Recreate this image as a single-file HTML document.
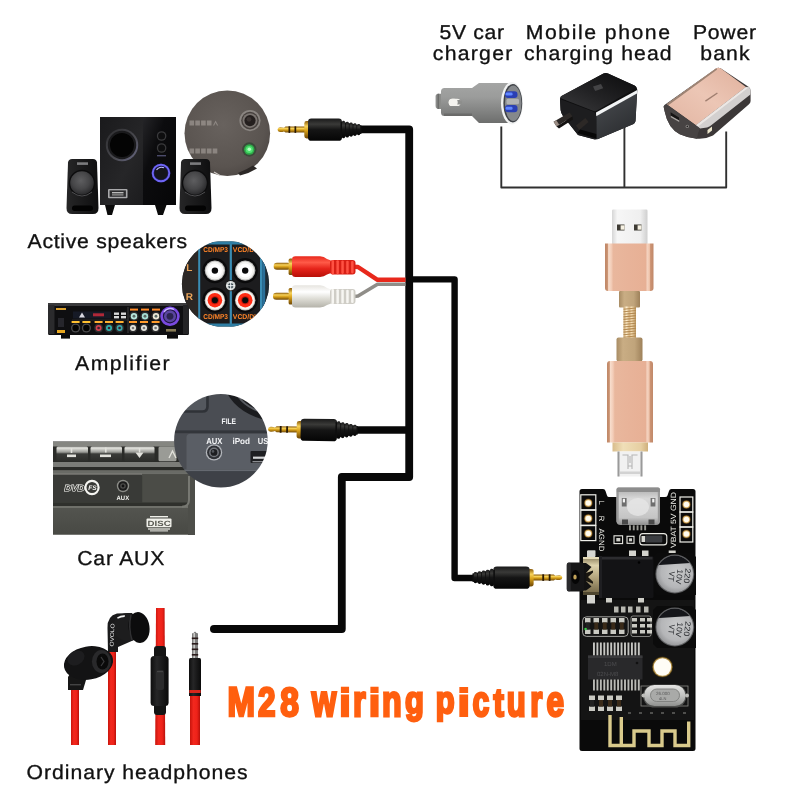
<!DOCTYPE html>
<html>
<head>
<meta charset="utf-8">
<title>M28 wiring picture</title>
<style>
html,body{margin:0;padding:0;background:#fff;}
body{width:800px;height:800px;overflow:hidden;font-family:"Liberation Sans",sans-serif;}
svg{display:block;will-change:transform;}
text{font-family:"Liberation Sans",sans-serif;text-rendering:geometricPrecision;}
.lbl{font-size:20px;fill:#111;stroke:#111;stroke-width:0.32px;}
</style>
</head>
<body>
<svg width="800" height="800" viewBox="0 0 800 800">
<defs>
  <linearGradient id="gold" x1="0" y1="0" x2="0" y2="1">
    <stop offset="0" stop-color="#8a5a08"/>
    <stop offset="0.3" stop-color="#f7d35c"/>
    <stop offset="0.55" stop-color="#d9a21b"/>
    <stop offset="1" stop-color="#6e4604"/>
  </linearGradient>
  <linearGradient id="blk" x1="0" y1="0" x2="0" y2="1">
    <stop offset="0" stop-color="#1a1a1a"/>
    <stop offset="0.25" stop-color="#3a3a38"/>
    <stop offset="0.5" stop-color="#151515"/>
    <stop offset="1" stop-color="#050505"/>
  </linearGradient>
  <linearGradient id="rose" x1="0" y1="0" x2="1" y2="0">
    <stop offset="0" stop-color="#bf8768"/>
    <stop offset="0.05" stop-color="#c9916f"/>
    <stop offset="0.075" stop-color="#f7dccb"/>
    <stop offset="0.13" stop-color="#f3cdb8"/>
    <stop offset="0.17" stop-color="#e9b79d"/>
    <stop offset="0.5" stop-color="#e8b399"/>
    <stop offset="0.84" stop-color="#e7b095"/>
    <stop offset="0.87" stop-color="#f4d2bf"/>
    <stop offset="0.915" stop-color="#f0c6ae"/>
    <stop offset="0.94" stop-color="#cc9373"/>
    <stop offset="1" stop-color="#c08869"/>
  </linearGradient>
  <linearGradient id="redb" x1="0" y1="0" x2="0" y2="1">
    <stop offset="0" stop-color="#e8281c"/>
    <stop offset="0.3" stop-color="#ff5a48"/>
    <stop offset="0.6" stop-color="#e6241a"/>
    <stop offset="1" stop-color="#b81008"/>
  </linearGradient>
  <linearGradient id="whb" x1="0" y1="0" x2="0" y2="1">
    <stop offset="0" stop-color="#e6e4df"/>
    <stop offset="0.3" stop-color="#ffffff"/>
    <stop offset="0.6" stop-color="#deddd6"/>
    <stop offset="1" stop-color="#b5b3aa"/>
  </linearGradient>
  <linearGradient id="cc1" x1="0" y1="0" x2="0" y2="1">
    <stop offset="0" stop-color="#a4a5a4"/><stop offset="0.35" stop-color="#9b9c9b"/><stop offset="1" stop-color="#6d6e6d"/>
  </linearGradient>
  <linearGradient id="wtop" x1="0" y1="1" x2="1" y2="0">
    <stop offset="0" stop-color="#3a3a3c"/><stop offset="0.45" stop-color="#222224"/><stop offset="1" stop-color="#0b0b0c"/>
  </linearGradient>
  <linearGradient id="pbk" x1="0" y1="1" x2="1" y2="0">
    <stop offset="0" stop-color="#e2b5a2"/><stop offset="0.5" stop-color="#ecc6b5"/><stop offset="1" stop-color="#e0b09c"/>
  </linearGradient>
  <linearGradient id="usbm" x1="0" y1="0" x2="1" y2="0">
    <stop offset="0" stop-color="#d6d6d6"/><stop offset="0.15" stop-color="#f6f6f6"/><stop offset="0.8" stop-color="#efefef"/><stop offset="1" stop-color="#cfcfcf"/>
  </linearGradient>
  <linearGradient id="tan" x1="0" y1="0" x2="1" y2="0">
    <stop offset="0" stop-color="#a88c64"/><stop offset="0.25" stop-color="#c9ad84"/><stop offset="0.7" stop-color="#c0a47b"/><stop offset="1" stop-color="#9e815a"/>
  </linearGradient>
  <linearGradient id="gband" x1="0" y1="0" x2="1" y2="0">
    <stop offset="0" stop-color="#d9bd8c"/><stop offset="0.3" stop-color="#f0dfb8"/><stop offset="0.8" stop-color="#e6cfa2"/><stop offset="1" stop-color="#cfb07c"/>
  </linearGradient>
  <linearGradient id="musb" x1="0" y1="0" x2="0" y2="1">
    <stop offset="0" stop-color="#a9a9a9"/><stop offset="0.3" stop-color="#d9d9d9"/><stop offset="0.8" stop-color="#c5c5c5"/><stop offset="1" stop-color="#8e8e8e"/>
  </linearGradient>
  <radialGradient id="capg" cx="0.55" cy="0.45" r="0.6">
    <stop offset="0" stop-color="#c9cacb"/><stop offset="0.7" stop-color="#b5b6b8"/><stop offset="1" stop-color="#8f9092"/>
  </radialGradient>
  <linearGradient id="jgold" x1="0" y1="0" x2="0" y2="1">
    <stop offset="0" stop-color="#8c7f5c"/><stop offset="0.22" stop-color="#ddd2ac"/><stop offset="0.55" stop-color="#b3a47c"/><stop offset="1" stop-color="#6f6344"/>
  </linearGradient>
  <linearGradient id="xtal" x1="0" y1="0" x2="0" y2="1">
    <stop offset="0" stop-color="#e4e4e2"/><stop offset="0.5" stop-color="#c2c3c1"/><stop offset="1" stop-color="#8f908e"/>
  </linearGradient>
  <radialGradient id="insg" cx="0.45" cy="0.4" r="0.65">
    <stop offset="0" stop-color="#68625e"/><stop offset="0.75" stop-color="#5a5450"/><stop offset="1" stop-color="#4c4643"/>
  </radialGradient>
  <linearGradient id="btn" x1="0" y1="0" x2="0" y2="1">
    <stop offset="0" stop-color="#b9bab5"/><stop offset="0.12" stop-color="#deded9"/><stop offset="0.38" stop-color="#9b9c97"/><stop offset="0.5" stop-color="#3a3b38"/><stop offset="1" stop-color="#2c2d2a"/>
  </linearGradient>
  <linearGradient id="redc" x1="0" y1="0" x2="1" y2="0">
    <stop offset="0" stop-color="#c8140c"/><stop offset="0.35" stop-color="#f2281e"/><stop offset="0.7" stop-color="#ee2219"/><stop offset="1" stop-color="#b8100a"/>
  </linearGradient>
  <linearGradient id="spr" x1="0" y1="0" x2="1" y2="0">
    <stop offset="0" stop-color="#c9a46c"/><stop offset="0.25" stop-color="#fff0d2"/><stop offset="0.45" stop-color="#d8b480"/><stop offset="0.65" stop-color="#f6e0b8"/><stop offset="1" stop-color="#b8925a"/>
  </linearGradient>
  <linearGradient id="subf" x1="0" y1="0" x2="1" y2="1">
    <stop offset="0" stop-color="#1a1a1c"/><stop offset="0.6" stop-color="#262628"/><stop offset="1" stop-color="#1c1c1e"/>
  </linearGradient>
  <linearGradient id="subr" x1="0" y1="0" x2="1" y2="1">
    <stop offset="0" stop-color="#252528"/><stop offset="0.35" stop-color="#0c0c0e"/><stop offset="1" stop-color="#060607"/>
  </linearGradient>
  <linearGradient id="wring" x1="0" y1="0" x2="1" y2="1">
    <stop offset="0" stop-color="#2c2c2e"/><stop offset="0.6" stop-color="#4a4a50"/><stop offset="1" stop-color="#6a6a88"/>
  </linearGradient>
  <linearGradient id="satg" x1="0" y1="0" x2="1" y2="0">
    <stop offset="0" stop-color="#262627"/><stop offset="0.5" stop-color="#1a1a1b"/><stop offset="1" stop-color="#0e0e0f"/>
  </linearGradient>
  <radialGradient id="cone" cx="0.45" cy="0.4" r="0.6">
    <stop offset="0" stop-color="#5e5e60"/><stop offset="0.6" stop-color="#464648"/><stop offset="1" stop-color="#2a2a2c"/>
  </radialGradient>
  <linearGradient id="micg" x1="0" y1="0" x2="1" y2="0">
    <stop offset="0" stop-color="#0e0e0e"/><stop offset="0.35" stop-color="#262627"/><stop offset="1" stop-color="#0a0a0a"/>
  </linearGradient>
  <linearGradient id="carlow" x1="0" y1="0" x2="0" y2="1">
    <stop offset="0" stop-color="#53544f"/><stop offset="1" stop-color="#484944"/>
  </linearGradient>
  <linearGradient id="wside" x1="0" y1="0" x2="0.6" y2="1">
    <stop offset="0" stop-color="#4a4d51"/><stop offset="1" stop-color="#2c2e31"/>
  </linearGradient>
  <!-- 3.5mm jack pointing left; origin = tip, y=0 centre -->
  <g id="jack">
    <path d="M0,0 Q0,-2.2 2.5,-2.4 Q5,-2.5 6.5,-1.8 L8,-3 L28,-3 L28,3 L8,3 L6.5,1.8 Q5,2.5 2.5,2.4 Q0,2.2 0,0Z" fill="url(#gold)"/>
    <rect x="11" y="-3.3" width="1.7" height="6.6" fill="#2a1a05"/>
    <rect x="17" y="-3.3" width="1.7" height="6.6" fill="#2a1a05"/>
    <rect x="26.8" y="-8.6" width="6" height="17.4" rx="2.4" fill="url(#gold)"/>
    <rect x="30.5" y="-11" width="34" height="22.2" rx="3.4" fill="url(#blk)"/>
    <path d="M63,-8 L84,-4.2 L84,4.2 L63,8Z" fill="#0e0e0e"/>
    <rect x="64.5" y="-8.75" width="3" height="17.50" rx="1.4" fill="url(#blk)"/><rect x="68.3" y="-7.95" width="3" height="15.90" rx="1.4" fill="url(#blk)"/><rect x="72.1" y="-7.15" width="3" height="14.30" rx="1.4" fill="url(#blk)"/><rect x="75.9" y="-6.35" width="3" height="12.70" rx="1.4" fill="url(#blk)"/><rect x="79.7" y="-5.55" width="3" height="11.10" rx="1.4" fill="url(#blk)"/>
  </g>
</defs>
<rect width="800" height="800" fill="#ffffff"/>

<!-- WIRES -->
<g id="wires" fill="none" stroke="#080808" stroke-linejoin="round" stroke-linecap="butt">
  <path d="M358,129.4 H409.2 V477 H341.8 V629 H214" stroke-width="7.8"/>
  <path d="M350,430 H409" stroke-width="7.6"/>
  <path d="M409,279.4 H454.6 V578 H476" stroke-width="6.4"/>
</g>
<circle cx="214" cy="629" r="4" fill="#080808"/>

<g id="rcaplugs">
  <!-- wires -->
  <path d="M352,266.6 L358,267 L377.5,279.8 H405.5" fill="none" stroke="#e8281c" stroke-width="4.4" stroke-linejoin="round"/>
  <path d="M352,296.6 L358,296 L377.5,284.2 H405.5" fill="none" stroke="#8f8d88" stroke-width="3.6" stroke-linejoin="round"/>
  <!-- red plug -->
  <rect x="273.7" y="262.8" width="17" height="7" rx="3.3" fill="url(#gold)"/>
  <rect x="288.6" y="258.6" width="4.6" height="16.4" rx="1.6" fill="url(#gold)"/>
  <path d="M292,259.5 Q292,256.2 295.5,256.2 H320 Q324,256.5 327,259 L331,260.5 V273 L327,274.5 Q324,276.8 320,277 H295.5 Q292,277 292,273.7Z" fill="url(#redb)"/>
  <rect x="330" y="260" width="25.5" height="14.4" rx="3" fill="#d81f15"/>
  <rect x="331.5" y="260.00" width="2.5" height="14.40" rx="1.1" fill="#ff5142"/><rect x="336.4" y="260.25" width="2.5" height="13.90" rx="1.1" fill="#ff5142"/><rect x="341.3" y="260.50" width="2.5" height="13.40" rx="1.1" fill="#ff5142"/><rect x="346.2" y="260.75" width="2.5" height="12.90" rx="1.1" fill="#ff5142"/><rect x="351.1" y="261.00" width="2.5" height="12.40" rx="1.1" fill="#ff5142"/>
  <!-- white plug -->
  <rect x="273" y="292.8" width="17.6" height="7" rx="3.3" fill="url(#gold)"/>
  <rect x="288.6" y="288" width="4.6" height="16.6" rx="1.6" fill="url(#gold)"/>
  <path d="M292,288.5 Q292,285.2 295.5,285.2 H320 Q324,285.5 327,288 L331,289.5 V303.5 L327,305 Q324,307.3 320,307.5 H295.5 Q292,307.5 292,304.2Z" fill="url(#whb)"/>
  <rect x="330" y="289" width="25.5" height="15" rx="3" fill="#cfcdc6"/>
  <rect x="331.5" y="289.00" width="2.5" height="15.00" rx="1.1" fill="#f7f6f2"/><rect x="336.4" y="289.25" width="2.5" height="14.50" rx="1.1" fill="#f7f6f2"/><rect x="341.3" y="289.50" width="2.5" height="14.00" rx="1.1" fill="#f7f6f2"/><rect x="346.2" y="289.75" width="2.5" height="13.50" rx="1.1" fill="#f7f6f2"/><rect x="351.1" y="290.00" width="2.5" height="13.00" rx="1.1" fill="#f7f6f2"/>
</g>
<!-- jacks -->
<use href="#jack" x="277.5" y="129.6"/>
<use href="#jack" transform="translate(268,429.2) scale(1.07,1) rotate(0.8)"/>
<use href="#jack" transform="translate(562.3,577.6) scale(-1.07,1)"/>

<!-- LABELS -->
<g id="labels" style="filter:opacity(1)">
<text class="lbl" transform="translate(27.6,247.5) scale(1.06,1)" textLength="150.5" lengthAdjust="spacing">Active speakers</text>
<text class="lbl" transform="translate(75.0,369.6) scale(1.06,1)" textLength="89.2" lengthAdjust="spacing">Amplifier</text>
<text class="lbl" transform="translate(77.3,564.8) scale(1.06,1)" textLength="82.1" lengthAdjust="spacing">Car AUX</text>
<text class="lbl" transform="translate(26.6,779.0) scale(1.06,1)" textLength="208.5" lengthAdjust="spacing">Ordinary headphones</text>
<text class="lbl" transform="translate(439.6,38.6) scale(1.06,1)" textLength="60.8" lengthAdjust="spacing">5V car</text>
<text class="lbl" transform="translate(432.8,60.0) scale(1.06,1)" textLength="75.0" lengthAdjust="spacing">charger</text>
<text class="lbl" transform="translate(525.8,38.6) scale(1.06,1)" textLength="136.0" lengthAdjust="spacing">Mobile phone</text>
<text class="lbl" transform="translate(523.9,60.0) scale(1.06,1)" textLength="139.4" lengthAdjust="spacing">charging head</text>
<text class="lbl" transform="translate(693.0,38.6) scale(1.06,1)" textLength="59.4" lengthAdjust="spacing">Power</text>
<text class="lbl" transform="translate(700.2,60.0) scale(1.06,1)" textLength="46.7" lengthAdjust="spacing">bank</text>
</g>
<!-- TITLE -->
<g id="title" font-size="200" font-weight="bold" fill="#ff5f0f" stroke="#ff5f0f" stroke-linejoin="miter" stroke-miterlimit="2.5">
<text transform="matrix(0.1650,0,0,0.2072,227.55,716.30)" stroke-width="12.9">M</text>
<text transform="matrix(0.1573,0,0,0.2043,258.10,716.30)" stroke-width="13.3">2</text>
<text transform="matrix(0.1677,0,0,0.2014,280.19,715.90)" stroke-width="13.0">8</text>
<text transform="matrix(0.1577,0,0,0.2226,311.70,716.30)" stroke-width="12.6">w</text>
<text transform="matrix(0.2074,0,0,0.1938,339.30,716.30)" stroke-width="12.0">i</text>
<text transform="matrix(0.1629,0,0,0.2185,353.08,716.30)" stroke-width="12.6">r</text>
<text transform="matrix(0.2074,0,0,0.1938,368.80,716.30)" stroke-width="12.0">i</text>
<text transform="matrix(0.1608,0,0,0.2185,382.11,716.30)" stroke-width="12.7">n</text>
<text transform="matrix(0.1545,0,0,0.1907,404.96,713.29)" stroke-width="13.9">g</text>
<text transform="matrix(0.1545,0,0,0.1907,435.69,713.29)" stroke-width="13.9">p</text>
<text transform="matrix(0.2259,0,0,0.1938,457.54,716.30)" stroke-width="11.4">i</text>
<text transform="matrix(0.1505,0,0,0.2145,472.50,715.87)" stroke-width="13.1">c</text>
<text transform="matrix(0.1548,0,0,0.1962,493.39,715.91)" stroke-width="13.7">t</text>
<text transform="matrix(0.1557,0,0,0.2185,506.83,715.86)" stroke-width="12.8">u</text>
<text transform="matrix(0.1548,0,0,0.2185,530.19,716.30)" stroke-width="12.9">r</text>
<text transform="matrix(0.1573,0,0,0.2145,546.44,715.87)" stroke-width="12.9">e</text>
</g>

<!-- SECTIONS -->
<g id="power">
  <!-- thin connector lines -->
  <path d="M501.3,126.5 V187.5 H726.2 V131.5 M624.4,124 V187.5" fill="none" stroke="#303030" stroke-width="1.9" stroke-linejoin="round"/>
  <!-- car charger -->
  <g>
    <rect x="435.6" y="93.7" width="8" height="15.2" rx="2.8" fill="#8b8c8a"/>
    <rect x="437.5" y="93.7" width="1.6" height="15.2" fill="#5f605e" opacity=".7"/>
    <path d="M441,91.5 Q441,88 444.5,88 H472 L479,83 H512 V123 H479 L472,116 H444.5 Q441,116 441,112.5Z" fill="url(#cc1)"/>
    <ellipse cx="512" cy="103.2" rx="11" ry="21.2" fill="#f1f2f2"/>
    <ellipse cx="512.8" cy="103.2" rx="9.4" ry="19.2" fill="#3f4247"/>
    <ellipse cx="513.2" cy="103.2" rx="8.3" ry="17.8" fill="#85888b"/>
    <rect x="506.5" y="98.8" width="12.5" height="5.4" rx="1.5" fill="#b0b2b3"/>
    <rect x="505" y="91.2" width="12.5" height="6.8" rx="3" fill="#2a3fb4"/>
    <rect x="505" y="105" width="12.5" height="7.2" rx="3" fill="#2a3fb4"/>
    <rect x="505.6" y="92.6" width="7" height="3" rx="1.4" fill="#5f86ff"/>
    <rect x="505.6" y="106.8" width="7" height="3" rx="1.4" fill="#5f86ff"/>
    <rect x="448.7" y="98.7" width="12" height="7.3" rx="3.6" fill="#f4f3ef"/>
    <rect x="455" y="100" width="7" height="4.6" rx="2.2" fill="#8e8f8d"/>
    <rect x="448.7" y="98.7" width="9" height="7.3" rx="3.6" fill="#f4f3ef"/>
    <rect x="444" y="113.5" width="28" height="2.5" fill="#5c5d5b" opacity=".55"/>
  </g>
  <!-- wall charger -->
  <g>
    <path d="M561.5,96 L603.5,73.6 Q605.6,72.6 608,73.4 L634.5,85.6 Q637.3,87 637.3,90 L635.5,121 Q635.3,123 633.5,124 L598,139 Q596,139.8 594,139.2 L578,135 L563,116 Q561,113 560.6,110 L560,99 Q560,97 561.5,96Z" fill="#0f0f10"/>
    <path d="M561.5,96 L603.5,73.6 Q605.6,72.6 608,73.4 L634.5,85.6 Q637.3,87 635,88.6 L597,110.6 Q595,111.6 593,110.8 L561.5,98.4 Q559.5,97.2 561.5,96Z" fill="url(#wtop)"/>
    <path d="M596.3,115.5 L637,93.5 L635.5,121 Q635.3,123 633.5,124 L598,139 Q596.3,139.6 596.3,138Z" fill="url(#wside)"/>
    <path d="M596,112.6 L637.2,90 L637,93.6 L596.2,116.2Z" fill="#f2f4f5"/>
    <path d="M560,99 L593,111.4 Q596,112.6 596.2,116 L596.3,138.6 Q595,139.6 594,139.2 L578,135 L563,116 Q561,113 560.6,110Z" fill="#1d1d1f"/>
    <path d="M577.5,133 L596.3,138.6 L596.3,134 L580,129.5Z" fill="#070707"/>
    <path d="M553.6,121.8 L569.6,112.4 L572.4,116.6 L556.6,126.6Z" fill="#2c2826"/>
    <path d="M553.6,121.8 L556.4,120.2 L559.2,124.8 L556.6,126.6Z" fill="#9a8c84"/>
    <path d="M576,125.6 L585.4,118 L588.6,122 L579.2,130Z" fill="#2c2826"/>
    <path d="M556.6,126.6 L572.4,116.6 L573,119.4 L559,128.6Z" fill="#141211"/>
    <path d="M593,86.6 L601,84 L603.2,88.2 L595.2,91Z" fill="#444446"/>
  </g>
  <!-- power bank -->
  <g>
    <path d="M663.6,106.5 Q663.8,105 666.6,103.6 L716,68.4 Q718.2,67 720.6,68.2 L748.5,86.8 Q750.6,88.4 750.6,91 V101 Q750.6,103 749,104.2 L713,135.5 Q705,139.5 697,138.75 Q688,138 679.75,134.25 Q668,128 664.75,111.75Z" fill="#3c3838"/>
    <path d="M666.6,104.2 L716,68.4 Q718.2,67 720.6,68.2 L746,87 L695.9,125.25 Z" fill="url(#pbk)"/>
    <path d="M666.6,104.2 L716,68.4 L717.2,69.4 L668,105.4Z" fill="#9c8272"/>
    <path d="M695.9,125.25 L746,87 L748.5,86.8 Q750.8,88.6 750.6,91.5 L750.4,94.6 L712.5,124.2 Q710,126.6 707,127.4 L700,128.6Z" fill="#d3d0cf"/>
    <path d="M695.9,125.25 L746,87 L747.6,88.2 L698,126.6Z" fill="#ece7e4"/>
    <path d="M663.6,106.5 L666.6,104.2 L695.9,125.25 L700,128.6 Q697.5,133 697,138.75 Q688,138 679.75,134.25 Q668,128 664.75,111.75Z" fill="#474343"/>
    <path d="M670.6,112.3 L679,117.4 L679.2,120.6 L670.8,115.8Z" fill="#161414"/>
    <path d="M670.8,115.8 L679.2,120.6 L679.2,122 L670.8,117.2Z" fill="#a9a5a2"/>
    <circle cx="687.3" cy="126.4" r="1.7" fill="#8a8684"/><circle cx="687.3" cy="126.4" r="0.8" fill="#1e1c1c"/>
    <path d="M707.5,130 L712,126.6 L712,130.6 L707.5,134Z" fill="#ece6cc"/>
    <path d="M705,100.6 L717,92.4 L717.8,93.6 L705.8,101.8Z" fill="#a07f70"/>
  </g>
</g>
<g id="usbcable">
  <!-- USB-A metal -->
  <rect x="612" y="209.5" width="35.5" height="35" rx="1.2" fill="url(#usbm)"/>
  <rect x="617" y="224.5" width="7.5" height="6" fill="#3d3a33"/><rect x="620.6" y="225.3" width="3.9" height="4.4" fill="#f6f1e2"/>
  <rect x="634" y="224.5" width="7.5" height="6" fill="#3d3a33"/><rect x="637.6" y="225.3" width="3.9" height="4.4" fill="#f6f1e2"/>
  <!-- rose body A -->
  <path d="M605,243.5 H653.5 V288 Q653.5,291 650.5,291 H608 Q605,291 605,288Z" fill="url(#rose)"/>
  <!-- neck -->
  <rect x="619" y="291" width="21" height="16.5" rx="1" fill="url(#tan)"/>
  <rect x="623.5" y="306.5" width="12.5" height="32" fill="url(#spr)"/>
  <path d="M623.5,309.20 L636,308.00" stroke="#b48a52" stroke-width="1.1"/><path d="M623.5,311.75 L636,310.55" stroke="#b48a52" stroke-width="1.1"/><path d="M623.5,314.30 L636,313.10" stroke="#b48a52" stroke-width="1.1"/><path d="M623.5,316.85 L636,315.65" stroke="#b48a52" stroke-width="1.1"/><path d="M623.5,319.40 L636,318.20" stroke="#b48a52" stroke-width="1.1"/><path d="M623.5,321.95 L636,320.75" stroke="#b48a52" stroke-width="1.1"/><path d="M623.5,324.50 L636,323.30" stroke="#b48a52" stroke-width="1.1"/><path d="M623.5,327.05 L636,325.85" stroke="#b48a52" stroke-width="1.1"/><path d="M623.5,329.60 L636,328.40" stroke="#b48a52" stroke-width="1.1"/><path d="M623.5,332.15 L636,330.95" stroke="#b48a52" stroke-width="1.1"/><path d="M623.5,334.70 L636,333.50" stroke="#b48a52" stroke-width="1.1"/><path d="M623.5,337.25 L636,336.05" stroke="#b48a52" stroke-width="1.1"/>
  <rect x="616.5" y="337.5" width="26" height="24" rx="2" fill="url(#tan)"/>
  <!-- rose body micro -->
  <path d="M607,364 Q607,361 610,361 H650 Q653,361 653,364 V442.5 H607Z" fill="url(#rose)"/>
  <rect x="612.5" y="442.5" width="35.5" height="9" fill="url(#gband)"/>
  <!-- micro metal -->
  <rect x="617.5" y="451.5" width="25" height="25" fill="#f1f1f1"/>
  <rect x="617.5" y="451.5" width="2" height="25" fill="#9a9a9a"/><rect x="640.5" y="451.5" width="2" height="25" fill="#9a9a9a"/>
  <path d="M622.5,455 H628 V469 M637.5,455 H632 V469 M630,456 V463 M628,466 h4" fill="none" stroke="#b5b5b5" stroke-width="1.1"/>
  <rect x="620" y="471.5" width="20" height="2.5" fill="#d2d2d2"/>
</g>
<g id="board">
  <!-- pcb -->
  <path d="M582,489 H603 Q605,489 605.5,491 L607,495.5 Q607.5,497 609,497 H665 Q667,497 667.5,495.5 L669,491 Q669.5,489 671.5,489 H693 Q695.5,489 695.5,491.5 V748.5 Q695.5,751 693,751 H582 Q579.5,751 579.5,748.5 V491.5 Q579.5,489 582,489Z" fill="#0a0a0a"/>
  <rect x="581" y="600" width="113" height="120" fill="#141414"/>
  <!-- header boxes -->
  <rect x="580.8" y="494.8" width="15" height="15" fill="none" stroke="#f0f0ea" stroke-width="1.2"/><circle cx="588.3" cy="503.00" r="4.5" fill="#4a3210"/><circle cx="588.3" cy="503.00" r="3.7" fill="#d6ae62"/><circle cx="588.3" cy="503.00" r="2.8" fill="#fffbee"/><rect x="580.8" y="510.2" width="15" height="15" fill="none" stroke="#f0f0ea" stroke-width="1.2"/><circle cx="588.3" cy="518.50" r="4.5" fill="#4a3210"/><circle cx="588.3" cy="518.50" r="3.7" fill="#d6ae62"/><circle cx="588.3" cy="518.50" r="2.8" fill="#fffbee"/><rect x="580.8" y="525.6" width="15" height="15" fill="none" stroke="#f0f0ea" stroke-width="1.2"/><circle cx="588.3" cy="533.50" r="4.5" fill="#4a3210"/><circle cx="588.3" cy="533.50" r="3.7" fill="#d6ae62"/><circle cx="588.3" cy="533.50" r="2.8" fill="#fffbee"/>
  <rect x="680" y="497" width="12.8" height="15" fill="none" stroke="#f0f0ea" stroke-width="1.2"/><circle cx="686.4" cy="504.50" r="4.5" fill="#4a3210"/><circle cx="686.4" cy="504.50" r="3.7" fill="#d6ae62"/><circle cx="686.4" cy="504.50" r="2.8" fill="#fffbee"/><rect x="680" y="512" width="12.8" height="15" fill="none" stroke="#f0f0ea" stroke-width="1.2"/><circle cx="686.4" cy="519.50" r="4.5" fill="#4a3210"/><circle cx="686.4" cy="519.50" r="3.7" fill="#d6ae62"/><circle cx="686.4" cy="519.50" r="2.8" fill="#fffbee"/><rect x="680" y="527" width="12.8" height="15" fill="none" stroke="#f0f0ea" stroke-width="1.2"/><circle cx="686.4" cy="534.00" r="4.5" fill="#4a3210"/><circle cx="686.4" cy="534.00" r="3.7" fill="#d6ae62"/><circle cx="686.4" cy="534.00" r="2.8" fill="#fffbee"/>
  <!-- silk labels -->
  <g font-size="7.6" fill="#f2f2ec" font-family="Liberation Sans, sans-serif">
    <text transform="translate(599.3,500.5) rotate(90)">L</text>
    <text transform="translate(599.3,515.8) rotate(90)">R</text>
    <text transform="translate(599.3,528.5) rotate(90)" textLength="23" lengthAdjust="spacingAndGlyphs">AGND</text>
    <text transform="translate(676,548) rotate(-90)" textLength="56" lengthAdjust="spacingAndGlyphs">VBAT 5V GND</text>
  </g>
  <!-- micro usb socket -->
  <path d="M618.5,487.5 H658 Q660,487.5 660,489.5 V521 Q660,525 656,525 H620.5 Q616.5,525 616.5,521 V489.5 Q616.5,487.5 618.5,487.5Z" fill="url(#musb)"/>
  <path d="M618.5,487.5 H658 Q660,487.5 660,489.5 V492 H616.5 V489.5 Q616.5,487.5 618.5,487.5Z" fill="#8d8d8d"/>
  <rect x="616.5" y="492" width="2.2" height="30" fill="#9a9a9a"/><rect x="657.8" y="492" width="2.2" height="30" fill="#9a9a9a"/>
  <ellipse cx="638" cy="507" rx="11" ry="9" fill="#e6e6e6" opacity=".8"/>
  <rect x="621.8" y="498" width="4.8" height="8.5" fill="#6e6e6e"/><rect x="622.8" y="498.8" width="2.2" height="3.6" fill="#f4f4f4"/>
  <rect x="650.6" y="498" width="4.8" height="8.5" fill="#6e6e6e"/><rect x="652.2" y="498.8" width="2.2" height="3.6" fill="#f4f4f4"/>
  <rect x="622" y="519.5" width="6" height="5" fill="#4a4a4a"/><rect x="648.5" y="519.5" width="6" height="5" fill="#4a4a4a"/>
  <g fill="#9a9a94"><rect x="629" y="525.3" width="1.9" height="5"/><rect x="632.8" y="525.3" width="1.9" height="5"/><rect x="636.6" y="525.3" width="1.9" height="5"/><rect x="640.4" y="525.3" width="1.9" height="5"/><rect x="644.2" y="525.3" width="1.9" height="5"/></g>
  <rect x="585" y="618" width="5.5" height="4.5" fill="#c9c9c2"/><rect x="585" y="629.5" width="5.5" height="4.5" fill="#c9c9c2"/><rect x="585.8" y="622.5" width="3.9" height="7" fill="#222"/><rect x="593.5" y="618" width="5.5" height="4.5" fill="#c9c9c2"/><rect x="593.5" y="629.5" width="5.5" height="4.5" fill="#c9c9c2"/><rect x="594.3" y="622.5" width="3.9" height="7" fill="#3a2a18"/><rect x="602" y="618" width="5.5" height="4.5" fill="#c9c9c2"/><rect x="602" y="629.5" width="5.5" height="4.5" fill="#c9c9c2"/><rect x="602.8" y="622.5" width="3.9" height="7" fill="#3a2a18"/><rect x="610.5" y="618" width="5.5" height="4.5" fill="#c9c9c2"/><rect x="610.5" y="629.5" width="5.5" height="4.5" fill="#c9c9c2"/><rect x="611.3" y="622.5" width="3.9" height="7" fill="#3a2a18"/><rect x="619" y="618" width="5.5" height="4.5" fill="#c9c9c2"/><rect x="619" y="629.5" width="5.5" height="4.5" fill="#c9c9c2"/><rect x="619.8" y="622.5" width="3.9" height="7" fill="#3a2a18"/><rect x="632" y="618" width="5" height="3.5" fill="#c9c9c2"/><rect x="632" y="624" width="5" height="3.5" fill="#c9c9c2"/><rect x="632" y="630" width="5" height="3.5" fill="#c9c9c2"/><rect x="640" y="618" width="5" height="3.5" fill="#c9c9c2"/><rect x="640" y="624" width="5" height="3.5" fill="#c9c9c2"/><rect x="640" y="630" width="5" height="3.5" fill="#c9c9c2"/><rect x="647" y="618" width="5" height="3.5" fill="#c9c9c2"/><rect x="647" y="624" width="5" height="3.5" fill="#c9c9c2"/><rect x="647" y="630" width="5" height="3.5" fill="#c9c9c2"/><rect x="614" y="606.5" width="4.5" height="6" fill="#b7b7b0"/><rect x="621" y="606.5" width="4.5" height="6" fill="#b7b7b0"/><rect x="628" y="606.5" width="4.5" height="6" fill="#b7b7b0"/><rect x="636" y="606.5" width="4.5" height="6" fill="#b7b7b0"/><rect x="644" y="606.5" width="4.5" height="6" fill="#b7b7b0"/><rect x="589" y="695.5" width="6" height="4.5" fill="#c9c9c2"/><rect x="589" y="706.5" width="6" height="4.5" fill="#c9c9c2"/><rect x="590" y="700" width="4" height="6.5" fill="#222"/><rect x="598" y="695.5" width="6" height="4.5" fill="#c9c9c2"/><rect x="598" y="706.5" width="6" height="4.5" fill="#c9c9c2"/><rect x="599" y="700" width="4" height="6.5" fill="#3a2a18"/><rect x="607" y="695.5" width="6" height="4.5" fill="#c9c9c2"/><rect x="607" y="706.5" width="6" height="4.5" fill="#c9c9c2"/><rect x="608" y="700" width="4" height="6.5" fill="#3a2a18"/><rect x="616" y="695.5" width="6" height="4.5" fill="#c9c9c2"/><rect x="616" y="706.5" width="6" height="4.5" fill="#c9c9c2"/><rect x="617" y="700" width="4" height="6.5" fill="#3a2a18"/><rect x="588" y="550.5" width="7.5" height="6" fill="#d4d4ce"/><rect x="629" y="550.5" width="7" height="6" fill="#d4d4ce"/><rect x="642" y="550.5" width="6.5" height="6" fill="#d4d4ce"/><rect x="668.7" y="550.5" width="7" height="5" fill="#d4d4ce"/><rect x="587" y="597" width="6" height="5.5" fill="#cfcfc8"/><rect x="606" y="597" width="6" height="5.5" fill="#cfcfc8"/><rect x="638" y="597" width="6" height="5.5" fill="#cfcfc8"/><rect x="614" y="535.8" width="8.6" height="7.8" fill="#0c0c0c" stroke="#e8e8e2" stroke-width="1.1"/><rect x="616.3" y="538" width="4" height="3.4" fill="#cfcfc9"/>
  <rect x="627" y="536.3" width="7" height="7" fill="#0c0c0c" stroke="#e8e8e2" stroke-width="1.1"/><rect x="629" y="538.3" width="3" height="3" fill="#cfcfc9"/>
  <rect x="639.8" y="533.6" width="27" height="11.3" rx="3" fill="#0c0c0c" stroke="#e8e8e2" stroke-width="1.1"/><rect x="645.3" y="535.6" width="17" height="7" rx="1" fill="#3b3d41"/><rect x="641.5" y="536" width="3.6" height="6" fill="#d8d8d2"/>
  <rect x="582.6" y="616.8" width="45.6" height="19.6" rx="4" fill="none" stroke="#d8d8d2" stroke-width="0.9" opacity=".8"/><circle cx="585.6" cy="629" r="1.3" fill="#3ad04a"/>
  <rect x="631" y="616" width="20" height="20.5" rx="2" fill="none" stroke="#d8d8d2" stroke-width="0.8" opacity=".7"/>
  <!-- capacitors -->
  <path d="M657,553 H692 L696,557 V595 H657 L653,591 V557Z" fill="#0b0b0b"/>
  <circle cx="674.8" cy="574" r="19.4" fill="#5c5d5f"/>
  <circle cx="674.8" cy="574" r="18.4" fill="url(#capg)"/>
  <clipPath id="cc574"><circle cx="674.8" cy="574" r="18.4"/></clipPath>
  <path d="M650,549 H700 V562.2 L650,565.8Z" fill="#15161a" clip-path="url(#cc574)"/>
  <g font-size="8" fill="#2b2d31" font-family="Liberation Sans, sans-serif">
    <text transform="translate(685.5,568) rotate(97)" textLength="15" lengthAdjust="spacingAndGlyphs">220</text>
    <text transform="translate(677.5,569) rotate(97)" textLength="15" lengthAdjust="spacingAndGlyphs">10V</text>
    <text transform="translate(669.5,571) rotate(97)" textLength="10" lengthAdjust="spacingAndGlyphs">VT</text>
  </g>
  <path d="M657,606 H692 L696,610 V648 H657 L653,644 V610Z" fill="#0b0b0b"/>
  <circle cx="674.8" cy="627" r="19.4" fill="#5c5d5f"/>
  <circle cx="674.8" cy="627" r="18.4" fill="url(#capg)"/>
  <clipPath id="cc627"><circle cx="674.8" cy="627" r="18.4"/></clipPath>
  <path d="M650,602 H700 V615.2 L650,618.8Z" fill="#15161a" clip-path="url(#cc627)"/>
  <g font-size="8" fill="#2b2d31" font-family="Liberation Sans, sans-serif">
    <text transform="translate(685.5,621) rotate(97)" textLength="15" lengthAdjust="spacingAndGlyphs">220</text>
    <text transform="translate(677.5,622) rotate(97)" textLength="15" lengthAdjust="spacingAndGlyphs">10V</text>
    <text transform="translate(669.5,624) rotate(97)" textLength="10" lengthAdjust="spacingAndGlyphs">VT</text>
  </g>
  <!-- audio jack -->
  <rect x="587" y="550.6" width="8" height="7" fill="#d6d6d0"/><rect x="587" y="595" width="8" height="8.5" fill="#d6d6d0"/>
  <rect x="583" y="557" width="16.5" height="38" fill="url(#jgold)"/>
  <rect x="583" y="557" width="16.5" height="2" fill="#e6dcb8"/>
  <rect x="583" y="592" width="16.5" height="3" fill="#4e462f"/>
  <path d="M583,563 H586 L591.5,567 L586,573 L586,581 L591.5,586.5 L586,590.5 H583Z" fill="#121212"/>
  <path d="M586,573 L593,570.5 L593,572.5 L588,577 L593,581.8 L593,583.8 L586,581Z" fill="#1a1710"/>
  <rect x="566.8" y="562.5" width="17.4" height="29" rx="3" fill="#161617"/>
  <rect x="566.8" y="562.5" width="4" height="29" rx="2" fill="#2a2a2c"/>
  <ellipse cx="575.5" cy="577" rx="4.2" ry="7" fill="#050505"/>
  <ellipse cx="575" cy="577" rx="1.7" ry="2.6" fill="#c2a35a"/>
  <rect x="599" y="556" width="54.5" height="42" rx="1.5" fill="#131315"/>
  <rect x="600" y="557" width="52.5" height="2.5" fill="#2c2c2f"/>
  <rect x="599" y="556" width="3" height="42" fill="#1f1f22"/>
  <circle cx="639" cy="562.5" r="1.2" fill="#000"/>
  <!-- IC -->
  <rect x="593.00" y="642.5" width="1.9" height="14" fill="#c6c6c2"/><rect x="596.45" y="642.5" width="1.9" height="14" fill="#c6c6c2"/><rect x="599.90" y="642.5" width="1.9" height="14" fill="#c6c6c2"/><rect x="603.35" y="642.5" width="1.9" height="14" fill="#c6c6c2"/><rect x="606.80" y="642.5" width="1.9" height="14" fill="#c6c6c2"/><rect x="610.25" y="642.5" width="1.9" height="14" fill="#c6c6c2"/><rect x="613.70" y="642.5" width="1.9" height="14" fill="#c6c6c2"/><rect x="617.15" y="642.5" width="1.9" height="14" fill="#c6c6c2"/><rect x="620.60" y="642.5" width="1.9" height="14" fill="#c6c6c2"/><rect x="624.05" y="642.5" width="1.9" height="14" fill="#c6c6c2"/><rect x="627.50" y="642.5" width="1.9" height="14" fill="#c6c6c2"/><rect x="630.95" y="642.5" width="1.9" height="14" fill="#c6c6c2"/><rect x="634.40" y="642.5" width="1.9" height="14" fill="#c6c6c2"/><rect x="637.85" y="642.5" width="1.9" height="14" fill="#c6c6c2"/><rect x="593.00" y="678.5" width="1.9" height="12" fill="#b9b9b4"/><rect x="596.45" y="678.5" width="1.9" height="12" fill="#b9b9b4"/><rect x="599.90" y="678.5" width="1.9" height="12" fill="#b9b9b4"/><rect x="603.35" y="678.5" width="1.9" height="12" fill="#b9b9b4"/><rect x="606.80" y="678.5" width="1.9" height="12" fill="#b9b9b4"/><rect x="610.25" y="678.5" width="1.9" height="12" fill="#b9b9b4"/><rect x="613.70" y="678.5" width="1.9" height="12" fill="#b9b9b4"/><rect x="617.15" y="678.5" width="1.9" height="12" fill="#b9b9b4"/><rect x="620.60" y="678.5" width="1.9" height="12" fill="#b9b9b4"/><rect x="624.05" y="678.5" width="1.9" height="12" fill="#b9b9b4"/><rect x="627.50" y="678.5" width="1.9" height="12" fill="#b9b9b4"/><rect x="630.95" y="678.5" width="1.9" height="12" fill="#b9b9b4"/><rect x="634.40" y="678.5" width="1.9" height="12" fill="#b9b9b4"/><rect x="637.85" y="678.5" width="1.9" height="12" fill="#b9b9b4"/>
  <rect x="588" y="655.5" width="54.5" height="24" fill="#29292b"/>
  <rect x="588" y="655.5" width="54.5" height="2.5" fill="#3a3a3c"/><circle cx="637" cy="663" r="1.3" fill="#111"/>
  <text x="604" y="666" font-size="6" fill="#4c4c4f">1DM</text><text x="597" y="675.5" font-size="6" fill="#4c4c4f">02N-M8</text>
  <!-- hole -->
  <circle cx="662.5" cy="667" r="10.6" fill="#3a2e12"/><circle cx="662.5" cy="667" r="9.8" fill="#b8954a"/><circle cx="662.5" cy="667" r="8.7" fill="#fffdf6"/>
  <!-- crystal -->
  <rect x="641" y="686" width="47" height="20" fill="none" stroke="#8a8a86" stroke-width="0.8"/>
  <rect x="643" y="684.5" width="43.5" height="23" rx="11.5" fill="#4e4f4d"/>
  <rect x="644" y="685" width="41.5" height="21" rx="10.5" fill="url(#xtal)"/>
  <rect x="650.5" y="689" width="29" height="12.5" rx="6.2" fill="#a9aaa8" stroke="#7d7e7c" stroke-width="0.9"/>
  <text x="656" y="695.3" font-size="4.5" fill="#5c5c5c">26.000</text><text x="659" y="699.8" font-size="4" fill="#5c5c5c">4LN</text>
  <circle cx="643.5" cy="695.5" r="2" fill="#bdbdb9"/><circle cx="687" cy="695.5" r="2" fill="#bdbdb9"/>
  <!-- antenna -->
  <path d="M610,715 V745.5 H634 V731 H649 V745.5 H662 V731 H675 V745.5 H688.7 V721.5 M621.3,717 V745.5" fill="none" stroke="#d9ca8c" stroke-width="3.4" stroke-linejoin="miter"/>
  <line x1="628" y1="713" x2="692" y2="713" stroke="#8a8a86" stroke-width="1" stroke-dasharray="3 8"/>
</g>
<g id="speakers">
  <!-- inset circle -->
  <circle cx="227.3" cy="133.3" r="42.8" fill="url(#insg)"/>
  <circle cx="250" cy="120.6" r="10.6" fill="#8a8581"/>
  <circle cx="250" cy="120.6" r="8.8" fill="#46403d"/>
  <circle cx="250" cy="120.6" r="7.4" fill="#7a7470"/>
  <circle cx="250" cy="120.6" r="5.6" fill="#241f1e"/>
  <circle cx="249" cy="119.3" r="2.4" fill="#3b3432"/>
  <circle cx="249.3" cy="149.5" r="7.2" fill="#3b4a3a"/>
  <circle cx="249.3" cy="149.5" r="5.2" fill="#2fae4a"/>
  <circle cx="249.3" cy="149.5" r="3.6" fill="#4fe070"/>
  <circle cx="249.3" cy="149.2" r="1.8" fill="#b5ffc0"/>
  <g fill="#a8a19c" opacity=".62">
    <rect x="189.5" y="120.5" width="4.6" height="5" /><rect x="195.3" y="120.5" width="4.6" height="5"/><rect x="201.1" y="120.5" width="4.6" height="5"/><rect x="206.9" y="120.5" width="4.6" height="5"/><path d="M213,125.5 l2.6,-5 l2.6,5 h-1.2 l-1.4,-2.8 l-1.4,2.8z"/>
    <rect x="189.5" y="148.5" width="4.6" height="5" /><rect x="195.3" y="148.5" width="4.6" height="5"/><rect x="201.1" y="148.5" width="4.6" height="5"/><rect x="206.9" y="148.5" width="4.6" height="5"/><rect x="212.7" y="148.5" width="4.6" height="5"/>
  </g>
  <path d="M238,173 Q247,169.5 253,165.5 L257,168.5 Q249,173.5 240,175.5Z" fill="#2c2826"/>
  <path d="M214,172 l6,3.5" stroke="#cfcac6" stroke-width="1.2"/>
  <!-- subwoofer -->
  <path d="M100,117 H176 V205 H100Z" fill="#0d0d0f"/>
  <path d="M100,117 H143 V205 H100Z" fill="url(#subf)"/>
  <path d="M143,117 H176 V205 H143Z" fill="url(#subr)"/>
  <path d="M105,205 H115 L112,215 H107.5Z M155,205 H166.5 L163,215 H158Z" fill="#0b0b0b"/>
  <circle cx="122" cy="145" r="16.2" fill="url(#wring)"/><circle cx="122" cy="145" r="14.2" fill="#1a1a1c"/>
  <circle cx="122" cy="145" r="12" fill="#040404"/>
  <circle cx="161.6" cy="136" r="4.8" fill="#3a3a3c"/><circle cx="161.6" cy="136" r="3.5" fill="#0e0e0f"/>
  <circle cx="161.6" cy="148" r="4.8" fill="#3a3a3c"/><circle cx="161.6" cy="148" r="3.5" fill="#0e0e0f"/>
  <rect x="157" y="155" width="9" height="1.4" fill="#77a" opacity=".6"/>
  <circle cx="161" cy="173" r="9.6" fill="#1c1a58"/>
  <circle cx="161" cy="173" r="8.3" fill="none" stroke="#6f66f5" stroke-width="1.9"/>
  <circle cx="161" cy="173" r="6.6" fill="#15151b"/>
  <path d="M156.5,170 A6,6 0 0 1 164,167.8" stroke="#b9b6ff" stroke-width="1.1" fill="none"/>
  <rect x="108" y="189" width="19.5" height="9.2" rx="1" fill="#a9a9ab"/><rect x="109.6" y="190.4" width="16.3" height="6.4" fill="#2c2c2e"/><rect x="112" y="192" width="11.5" height="1.4" fill="#bbb"/><rect x="112" y="194.3" width="11.5" height="1.2" fill="#999"/>
  <!-- satellites -->
  <path d="M72,159 H93 Q96.5,159 97,162.5 L98.5,208 Q98.5,214 93,214 H72 Q66.5,214 66.5,208 L68,162.5 Q68.5,159 72,159Z" fill="url(#satg)"/>
  <circle cx="82" cy="183" r="13.2" fill="#0c0c0d"/>
  <circle cx="82" cy="183" r="11.8" fill="url(#cone)"/>
  <path d="M72,192 Q82,200 92,192" fill="none" stroke="#6a6a6c" stroke-width="1" opacity=".7"/>
  <rect x="72" y="205.5" width="21" height="5.5" rx="2.7" fill="#030303"/>
  <rect x="77" y="162.3" width="11" height="2.6" fill="#8d8d8f" opacity=".85"/>
  <path d="M185,159 H206 Q209.5,159 210,162.5 L211.5,208 Q211.5,214 206,214 H185 Q179.5,214 179.5,208 L181,162.5 Q181.5,159 185,159Z" fill="url(#satg)"/>
  <circle cx="195" cy="183" r="13.2" fill="#0c0c0d"/>
  <circle cx="195" cy="183" r="11.8" fill="url(#cone)"/>
  <path d="M185,192 Q195,200 205,192" fill="none" stroke="#6a6a6c" stroke-width="1" opacity=".7"/>
  <rect x="185" y="205.5" width="21" height="5.5" rx="2.7" fill="#030303"/>
  <rect x="190" y="162.3" width="11" height="2.6" fill="#8d8d8f" opacity=".85"/>
</g>
<g id="amp">
  <rect x="48" y="303" width="141" height="32" rx="1.5" fill="#0f0f11"/>
  <rect x="48" y="303" width="141" height="3" fill="#3a3a3c"/>
  <rect x="61" y="335" width="9" height="3.6" fill="#0c0c0c"/><rect x="167" y="335" width="11" height="3.6" fill="#0c0c0c"/>
  <rect x="48" y="305" width="6.5" height="29" fill="#2b2b2d"/><rect x="183" y="305" width="6" height="29" fill="#242426"/>
  <rect x="73" y="311.5" width="38" height="7" fill="#161a26"/>
  <path d="M79,317.5 l3,-5 l3,5z" fill="#d8d8e0"/><rect x="93" y="313.3" width="11" height="3" fill="#b02838"/>
  <rect x="114" y="312.5" width="5" height="2.4" fill="#d8d8d8"/><rect x="121" y="312.5" width="5" height="2.4" fill="#d8d8d8"/><rect x="114" y="316" width="5" height="2.4" fill="#d8d8d8"/><rect x="121" y="316" width="5" height="2.4" fill="#d8d8d8"/>
  <rect x="56" y="308" width="10" height="2" fill="#d9a030"/><rect x="57" y="330" width="8" height="3" fill="#e8a820"/>
  <rect x="58" y="318" width="6" height="9" fill="#26262c"/>
  <line x1="128" y1="307" x2="128" y2="333" stroke="#4a4a4c" stroke-width="0.8"/>
  <line x1="72" y1="320" x2="128" y2="320" stroke="#3a3a3c" stroke-width="0.6"/>
  <circle cx="134" cy="316.3" r="4.7" fill="#2c2c2e"/><circle cx="134" cy="316.3" r="3.2" fill="#b8e6dc"/><circle cx="134" cy="316.3" r="1.44" fill="#5a6a66"/><rect x="130" y="308.6" width="8" height="2" fill="#ff8a2a"/><circle cx="145" cy="316.3" r="4.7" fill="#2c2c2e"/><circle cx="145" cy="316.3" r="3.2" fill="#a8e0d6"/><circle cx="145" cy="316.3" r="1.44" fill="#5a6a66"/><rect x="141" y="308.6" width="8" height="2" fill="#ff8a2a"/><circle cx="156" cy="316.3" r="4.7" fill="#2c2c2e"/><circle cx="156" cy="316.3" r="3.2" fill="#ece8d6"/><circle cx="156" cy="316.3" r="1.44" fill="#5a6a66"/><rect x="152" y="308.6" width="8" height="2" fill="#ff8a2a"/><circle cx="98.6" cy="328" r="4.5" fill="#2c2c2e"/><circle cx="98.6" cy="328" r="3.0" fill="#d2404e"/><circle cx="98.6" cy="328" r="1.35" fill="#3a2030"/><rect x="94.6" y="321" width="8" height="2" fill="#ffb030"/><circle cx="109" cy="328" r="4.5" fill="#2c2c2e"/><circle cx="109" cy="328" r="3.0" fill="#2fb3ae"/><circle cx="109" cy="328" r="1.35" fill="#3a2030"/><rect x="105" y="321" width="8" height="2" fill="#ffb030"/><circle cx="119.6" cy="328" r="4.5" fill="#2c2c2e"/><circle cx="119.6" cy="328" r="3.0" fill="#3aa7a8"/><circle cx="119.6" cy="328" r="1.35" fill="#3a2030"/><rect x="115.6" y="321" width="8" height="2" fill="#ffb030"/><circle cx="133" cy="328" r="4.5" fill="#2c2c2e"/><circle cx="133" cy="328" r="3.0" fill="#e6e5de"/><circle cx="133" cy="328" r="1.35" fill="#777"/><rect x="129" y="321" width="8" height="2" fill="#ff9a2a"/><circle cx="144" cy="328" r="4.5" fill="#2c2c2e"/><circle cx="144" cy="328" r="3.0" fill="#e6e5de"/><circle cx="144" cy="328" r="1.35" fill="#777"/><rect x="140" y="321" width="8" height="2" fill="#ff9a2a"/><circle cx="155.6" cy="328" r="4.5" fill="#2c2c2e"/><circle cx="155.6" cy="328" r="3.0" fill="#e6e5de"/><circle cx="155.6" cy="328" r="1.35" fill="#777"/><rect x="151.6" y="321" width="8" height="2" fill="#ff9a2a"/><circle cx="75.6" cy="328" r="4.6" fill="#4a4a4c"/><circle cx="75.6" cy="328" r="3.2" fill="#050505"/><rect x="71.6" y="321" width="8" height="2" fill="#ffc030"/><circle cx="86.4" cy="328" r="4.6" fill="#4a4a4c"/><circle cx="86.4" cy="328" r="3.2" fill="#050505"/><rect x="82.4" y="321" width="8" height="2" fill="#ffc030"/>
  <circle cx="170" cy="316.3" r="10" fill="#1e1440"/>
  <circle cx="170" cy="316.3" r="8.4" fill="none" stroke="#7a4ae0" stroke-width="2.6"/>
  <circle cx="170" cy="316.3" r="6" fill="#5a45a0"/>
  <circle cx="170" cy="316.3" r="3.4" fill="#2c2450"/>
  <path d="M164,312 A7.5,7.5 0 0 1 174,309.5" stroke="#c9b8ff" stroke-width="1.4" fill="none"/>
  <rect x="166" y="329" width="10" height="2.6" fill="#a89868" opacity=".8"/>
</g>
<g id="rcains">
  <clipPath id="rcaclip"><circle cx="225.5" cy="284" r="43.6"/></clipPath>
  <g clip-path="url(#rcaclip)">
    <rect x="180" y="241.5" width="92" height="85" fill="#1c1c1e"/>
    <rect x="180" y="241.5" width="19" height="85" fill="#2b2725"/>
    <rect x="262" y="241.5" width="10" height="85" fill="#1d2c36"/>
    <rect x="262.2" y="241.5" width="3" height="85" fill="#2a6f98"/>
    <rect x="198.2" y="241.5" width="2" height="85" fill="#3a8db4"/>
    <rect x="229.7" y="241.5" width="2.2" height="85" fill="#3a8db4"/>
    <rect x="260" y="241.5" width="2.2" height="85" fill="#3a8db4"/>
    <rect x="199" y="241.5" width="63" height="3" fill="#2f7ea4"/>
    <rect x="199" y="323.5" width="63" height="3" fill="#2f7ea4"/>
    <g font-size="7" font-weight="bold" fill="#ff8428" font-family="Liberation Sans, sans-serif">
      <text x="203.2" y="251.8" textLength="24.8" lengthAdjust="spacingAndGlyphs">CD/MP3</text>
      <text x="232.8" y="251.8" textLength="31" lengthAdjust="spacingAndGlyphs">VCD/DVD</text>
      <text x="203.2" y="318.6" textLength="24.8" lengthAdjust="spacingAndGlyphs">CD/MP3</text>
      <text x="232.8" y="318.6" textLength="31" lengthAdjust="spacingAndGlyphs">VCD/DVD</text>
    </g>
    <text x="186.3" y="270.8" font-size="10" font-weight="bold" fill="#eaa45a">L</text>
    <text x="185.8" y="299.7" font-size="10" font-weight="bold" fill="#eaa45a">R</text>
    <circle cx="214.9" cy="270.6" r="12.6" fill="#0a0a0b"/><circle cx="214.9" cy="270.6" r="10.2" fill="#bdbdbb"/><circle cx="214.9" cy="270.6" r="9" fill="#f3f3f1"/><circle cx="214.9" cy="270.6" r="7" fill="#ffffff"/><circle cx="214.9" cy="270.6" r="3.2" fill="#0a0a0a"/><circle cx="245.2" cy="270.6" r="12.6" fill="#0a0a0b"/><circle cx="245.2" cy="270.6" r="10.2" fill="#bdbdbb"/><circle cx="245.2" cy="270.6" r="9" fill="#f3f3f1"/><circle cx="245.2" cy="270.6" r="7" fill="#ffffff"/><circle cx="245.2" cy="270.6" r="3.2" fill="#0a0a0a"/><circle cx="214.9" cy="300.2" r="12.6" fill="#0a0a0b"/><circle cx="214.9" cy="300.2" r="10.2" fill="#c9c5c0"/><circle cx="214.9" cy="300.2" r="9.2" fill="#f8f4f0"/><circle cx="214.9" cy="300.2" r="7.3" fill="#ff2c14"/><circle cx="214.9" cy="300.2" r="4" fill="#c41408"/><circle cx="214.9" cy="300.2" r="3" fill="#0a0a0a"/><circle cx="245.2" cy="300.2" r="12.6" fill="#0a0a0b"/><circle cx="245.2" cy="300.2" r="10.2" fill="#c9c5c0"/><circle cx="245.2" cy="300.2" r="9.2" fill="#f8f4f0"/><circle cx="245.2" cy="300.2" r="7.3" fill="#ff2c14"/><circle cx="245.2" cy="300.2" r="4" fill="#c41408"/><circle cx="245.2" cy="300.2" r="3" fill="#0a0a0a"/>
    <circle cx="230.7" cy="285.7" r="5.6" fill="#1a1a1a"/><circle cx="230.7" cy="285.7" r="4.8" fill="#d2d6d6"/><circle cx="230.7" cy="285.7" r="2.6" fill="#3c4a52"/><path d="M226.5,285.7 H235 M230.7,281.5 V290" stroke="#f2f6f8" stroke-width="1"/>
  </g>
</g>
<g id="car">
  <!-- car stereo photo -->
  <rect x="53" y="442" width="142" height="92.5" fill="#4d4e49"/>
  <rect x="53" y="441.5" width="141" height="29" fill="#2a2b28"/>
  <rect x="53" y="442" width="141" height="4.5" fill="#858681"/>
  <g fill="url(#btn)">
    <rect x="56.5" y="446.5" width="31.5" height="14.8" rx="1.5"/><rect x="90.5" y="446.5" width="31.5" height="14.8" rx="1.5"/>
    <rect x="124.5" y="446.5" width="30" height="14.8" rx="1.5"/>
  </g>
  <rect x="158.5" y="446.5" width="18" height="14.8" rx="1.5" fill="#9a9b96"/>
  <rect x="53" y="462" width="141" height="5" fill="#7b7c78"/>
  <g fill="#e2e2dc"><rect x="67" y="454.5" width="9" height="2.6"/><rect x="70.7" y="448" width="1.6" height="5"/><rect x="100" y="454.5" width="11" height="2.6"/><rect x="105" y="447.5" width="1.6" height="5"/><path d="M135.5,452.5 h8 l-4,5.5z"/><rect x="138.8" y="448" width="1.5" height="4.5"/><path d="M169,458 l3.5,-7 l3.5,7" fill="none" stroke="#e2e2dc" stroke-width="1.3"/></g>
  <rect x="53" y="467" width="141" height="4" fill="#2a2b28"/>
  <path d="M53,470.5 H186 Q190,470.5 192,473 L194,476 V474 H53Z" fill="#6c6d68"/>
  <rect x="53" y="470.3" width="137" height="2.6" fill="#6a6b66"/>
  <path d="M53,474 H139 Q142.5,474 142.5,477.5 V502.5 H53Z" fill="#393a37"/>
  <rect x="53" y="473.4" width="89" height="1.3" fill="#7c7d78"/>
  <path d="M142.5,475 H188 V505 H142.5Z" fill="#4b4c47"/>
  <rect x="53" y="502.5" width="135" height="3.6" fill="#2f302c"/>
  <rect x="53" y="506" width="135" height="2.2" fill="#6f706a"/>
  <rect x="53" y="508" width="142" height="26.5" fill="url(#carlow)"/>
  <path d="M188,473 Q191,474 195,478 V535 H188Z" fill="#4d4e49"/><path d="M189,476 V500 Q189,506.5 182,506.8" fill="none" stroke="#777872" stroke-width="2"/>
  <text x="64.5" y="490.6" font-size="8.5" font-weight="bold" font-style="italic" fill="#3a3b38" stroke="#f4f4f0" stroke-width="1.1" paint-order="stroke" textLength="20" lengthAdjust="spacingAndGlyphs">DVD</text>
  <circle cx="92" cy="487.5" r="6.6" fill="none" stroke="#f4f4f0" stroke-width="2.2"/>
  <text x="88.3" y="490.3" font-size="6.6" font-weight="bold" font-style="italic" fill="#f4f4f0">FS</text>
  <circle cx="123" cy="486" r="6.2" fill="#8b8c87"/><circle cx="123" cy="486" r="4.8" fill="#1b1b1b"/><circle cx="123" cy="486" r="2.8" fill="#4c4c4a"/><circle cx="123" cy="486" r="1.4" fill="#111"/>
  <text x="116.6" y="499.6" font-size="6.2" font-weight="bold" fill="#f2f2ee" textLength="12.5" lengthAdjust="spacingAndGlyphs">AUX</text>
  <g fill="#f0f0ea"><rect x="150" y="516" width="18" height="1.4"/><rect x="146.5" y="518.6" width="25" height="8.6" rx="1"/><rect x="148" y="528.4" width="22" height="1.2"/><rect x="150" y="530.4" width="18" height="1"/></g>
  <text x="147.6" y="526" font-size="7.6" font-weight="bold" fill="#55564f" textLength="23" lengthAdjust="spacingAndGlyphs">DISC</text>
  <!-- inset circle -->
  <clipPath id="carclip"><circle cx="220.9" cy="440.7" r="46.8"/></clipPath>
  <g clip-path="url(#carclip)">
    <rect x="173" y="393" width="96" height="96" fill="#4a4d53"/>
    <path d="M173,393 H206 V407 Q206,411 202,411 H173Z" fill="#54585e"/>
    <path d="M173,411.5 H202.5 Q207.5,411.5 207.5,406.5 V393" fill="none" stroke="#2f3237" stroke-width="2.6"/>
    <path d="M227,393 Q238,414 269,421 V393Z" fill="#1b1c1f"/>
    <path d="M236,393 Q245,409 269,414" fill="none" stroke="#585b61" stroke-width="1.8"/>
    <path d="M243,393 Q250,404 269,407.5 V393Z" fill="#101113"/>
    <rect x="173" y="430.4" width="96" height="2.8" fill="#33363b"/>
    <path d="M186.5,437.5 Q186.5,433.8 190.5,433.8 H269 V469.6 H186.5Z" fill="#5a5e65"/>
    <rect x="173" y="469.6" width="96" height="1.6" fill="#656970"/>
    <rect x="173" y="471.2" width="96" height="18" fill="#3e4147"/>
    <g font-weight="bold" fill="#f3f4f6" font-family="Liberation Sans, sans-serif">
      <text x="221.6" y="423.6" font-size="8" textLength="14.5" lengthAdjust="spacingAndGlyphs">FILE</text>
      <text x="206.3" y="443.8" font-size="8.6" textLength="16.2" lengthAdjust="spacingAndGlyphs">AUX</text>
      <text x="232.4" y="443.8" font-size="8.6" textLength="17.6" lengthAdjust="spacingAndGlyphs">iPod</text>
      <text x="257.8" y="443.8" font-size="8.6" textLength="16" lengthAdjust="spacingAndGlyphs">USB</text>
    </g>
    <circle cx="214" cy="452.4" r="8.2" fill="#b3b6bb"/><circle cx="214" cy="452.4" r="6.9" fill="#2f3136"/><circle cx="214" cy="452.4" r="4.9" fill="#74777d"/><circle cx="214" cy="452.4" r="3.4" fill="#1d1e21"/><circle cx="213" cy="451.4" r="1.3" fill="#55585e"/>
    <rect x="250.5" y="451" width="20" height="12" rx="1" fill="#1e1f22"/>
    <rect x="253" y="456.6" width="17" height="2.2" fill="#d4d5d7"/>
    <rect x="252.5" y="461" width="12" height="1.3" fill="#8a8c90"/>
  </g>
</g>
<g id="phones">
  <!-- red cables -->
  <rect x="71" y="686" width="8" height="59" fill="url(#redc)"/>
  <rect x="108" y="646" width="8" height="99" fill="url(#redc)"/>
  <path d="M156,608 H164.6 L165.2,745 H155.2Z" fill="url(#redc)"/>
  <rect x="190" y="694" width="10" height="51" fill="url(#redc)"/>
  <!-- mic -->
  <rect x="154" y="646" width="12" height="69" rx="3" fill="#141414"/>
  <rect x="150.6" y="656" width="18" height="50" rx="3.5" fill="url(#micg)"/>
  <rect x="156" y="670" width="8" height="20" rx="2" fill="#2b2b2c"/>
  <rect x="157" y="671" width="6" height="1.2" fill="#444"/>
  <!-- plug -->
  <path d="M193.5,633 L195,631.5 L196.5,633 V634Z" fill="#777"/>
  <rect x="192" y="633" width="6" height="26" rx="1" fill="#7d7d7c"/>
  <rect x="193.4" y="633" width="1.6" height="26" fill="#c8c8c6"/>
  <g fill="#2a1a1a"><rect x="191.8" y="637.5" width="6.4" height="1.6"/><rect x="191.8" y="643" width="6.4" height="1.6"/><rect x="191.8" y="648.5" width="6.4" height="1.6"/><rect x="191.8" y="654" width="6.4" height="1.6"/></g>
  <path d="M190.5,658 H199.5 Q201,658 201,660 V696 H189 V660 Q189,658 190.5,658Z" fill="url(#micg)"/>
  <rect x="189.3" y="690" width="11.4" height="3" fill="#d8261c"/>
  <!-- earbud upper -->
  <path d="M108,652 L107.5,628 Q107,616 117,613.5 L132,613 L134,640 L118,647 L118,652Z" fill="#1a1a1b"/>
  <ellipse cx="128" cy="627" rx="15" ry="14" fill="#1d1d1e"/>
  <ellipse cx="139" cy="627.5" rx="10.5" ry="15.5" fill="#0c0c0d" transform="rotate(-8 139 627.5)"/>
  <path d="M131,615 Q128,627 132,640" fill="none" stroke="#303032" stroke-width="1.5"/>
  <path d="M117,617.5 q4,-2.6 8,-2.2 l-0.4,1.6 q-3.4,0 -6.8,1.9z" fill="#f2f2f2"/>
  <text transform="translate(113.5,646.5) rotate(-88)" font-size="5.4" fill="#e4e4e4" textLength="23" lengthAdjust="spacingAndGlyphs">OVOLO</text>
  <!-- earbud lower -->
  <path d="M68,690 L68,677 L73,669 L86,680 L83,690Z" fill="#161616"/>
  <rect x="70" y="684" width="11" height="1.4" fill="#444"/>
  <ellipse cx="88.5" cy="663" rx="24.8" ry="16.6" fill="#131314" transform="rotate(-10 88.5 663)"/>
  <ellipse cx="76" cy="658" rx="9" ry="7" fill="#222224" opacity=".7" transform="rotate(-30 76 658)"/>
  <ellipse cx="101.5" cy="661.5" rx="9.6" ry="11.4" fill="#29292b"/>
  <ellipse cx="102.5" cy="661.5" rx="6" ry="8" fill="#0a0a0a"/>
  <path d="M101,657 l3,4.5 l-3,4.5" fill="none" stroke="#3c3c3e" stroke-width="1.2"/>
</g>
</svg>
</body>
</html>
